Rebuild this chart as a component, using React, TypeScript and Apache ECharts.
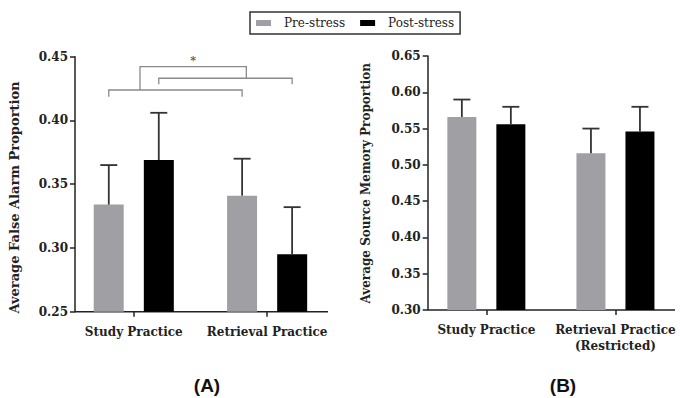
import React, { useEffect, useRef } from "react";
import * as echarts from "echarts";

// ---- data ----
const categoriesA = ["Study Practice", "Retrieval Practice"];
const preA = [0.334, 0.341];
const postA = [0.369, 0.295];
const preErrA = [0.031, 0.029];
const postErrA = [0.037, 0.037];

const categoriesB = ["Study Practice", "Retrieval Practice\n(Restricted)"];
const preB = [0.566, 0.516];
const postB = [0.556, 0.546];
const preErrB = [0.024, 0.034];
const postErrB = [0.024, 0.034];

const yRangeA = [0.25, 0.45];
const yRangeB = [0.3, 0.65];
const yStep = 0.05;

// significance bracket levels (panel A, in axis units)
const bracketLow = [0.4239, 0.4186];
const bracketMid = [0.4331, 0.4284];
const bracketTop = 0.4422;

const GREY = "#a0a0a4";
const BLACK = "#000000";
const AXIS = "#222222";
const SERIF = '"DejaVu Serif"';

const OFF_A = 25;
const OFF_B = 24.5;

function errorSeries(name: string, xi: number, vals: number[], errs: number[], offset: number) {
  return {
    type: "custom",
    name: name + "-err",
    xAxisIndex: xi,
    yAxisIndex: xi,
    z: 3,
    silent: true,
    encode: { x: 0, y: 1 },
    data: vals.map((v, i) => [i, v, errs[i]]),
    renderItem: (params: any, api: any) => {
      const c = api.value(0);
      const v = api.value(1);
      const e = api.value(2);
      const base = api.coord([c, v]);
      const top = api.coord([c, v + e]);
      const x = base[0] + offset;
      const style = { stroke: "#333", lineWidth: 1.8 };
      return {
        type: "group",
        children: [
          { type: "line", shape: { x1: x, y1: base[1], x2: x, y2: top[1] }, style },
          { type: "line", shape: { x1: x - 8.5, y1: top[1], x2: x + 8.5, y2: top[1] }, style },
        ],
      };
    },
  };
}

export default function App() {
  const ref = useRef<HTMLDivElement>(null);
  useEffect(() => {
    if (!ref.current) return;
    const chart = echarts.init(ref.current, null, { renderer: "svg" });
    const yLabel = {
      formatter: (v: number) => v.toFixed(2),
      fontFamily: SERIF,
      fontWeight: "bold",
      fontSize: 12,
      color: AXIS,
      margin: 7,
    };
    const xLabel = {
      interval: 0,
      fontFamily: SERIF,
      fontWeight: "bold",
      fontSize: 12,
      color: AXIS,
      margin: 12,
      lineHeight: 16,
    };
    const tick = { show: true, length: 5, lineStyle: { color: AXIS, width: 1.5 } };
    const xAxisCommon = {
      type: "category",
      axisLine: { show: true, lineStyle: { color: "rgba(0,0,0,0)", width: 0 } },
      axisTick: { ...tick, alignWithLabel: true, interval: 0 },
      axisLabel: xLabel,
    };
    const option: any = {
      animation: false,
      legend: {
        left: 250,
        top: 12,
        data: ["Pre-stress", "Post-stress"],
        icon: "rect",
        itemWidth: 15,
        itemHeight: 6,
        itemGap: 15,
        borderColor: "#333",
        borderWidth: 1.5,
        padding: [5, 6, 5, 6],
        textStyle: { fontFamily: SERIF, fontSize: 12, color: "#222", padding: [0, 0, 0, 8] },
      },
      grid: [
        { left: 67.1, top: 56.7, width: 266.7, height: 255 },
        { left: 421.8, top: 56, width: 266, height: 254 },
      ],
      xAxis: [
        { ...xAxisCommon, gridIndex: 0, data: categoriesA },
        { ...xAxisCommon, gridIndex: 1, data: categoriesB },
      ],
      yAxis: [
        {
          type: "value",
          gridIndex: 0,
          min: yRangeA[0],
          max: yRangeA[1],
          interval: yStep,
          offset: -7.9,
          axisLine: { show: true, lineStyle: { color: AXIS, width: 1.5 } },
          axisTick: tick,
          splitLine: { show: false },
          axisLabel: yLabel,
        },
        {
          type: "value",
          gridIndex: 1,
          min: yRangeB[0],
          max: yRangeB[1],
          interval: yStep,
          offset: -5.9,
          axisLine: { show: true, lineStyle: { color: AXIS, width: 1.5 } },
          axisTick: tick,
          splitLine: { show: false },
          axisLabel: yLabel,
        },
      ],
      series: [
        { type: "bar", name: "Pre-stress", xAxisIndex: 0, yAxisIndex: 0, data: preA, barWidth: 30, barGap: "67%", itemStyle: { color: GREY } },
        { type: "bar", name: "Post-stress", xAxisIndex: 0, yAxisIndex: 0, data: postA, barWidth: 30, barGap: "67%", itemStyle: { color: BLACK } },
        { type: "bar", name: "Pre-stress", xAxisIndex: 1, yAxisIndex: 1, data: preB, barWidth: 29, barGap: "69%", itemStyle: { color: GREY } },
        { type: "bar", name: "Post-stress", xAxisIndex: 1, yAxisIndex: 1, data: postB, barWidth: 29, barGap: "69%", itemStyle: { color: BLACK } },
        errorSeries("Pre-stress", 0, preA, preErrA, -OFF_A),
        errorSeries("Post-stress", 0, postA, postErrA, OFF_A),
        errorSeries("Pre-stress", 1, preB, preErrB, -OFF_B),
        errorSeries("Post-stress", 1, postB, postErrB, OFF_B),
        {
          type: "custom",
          name: "significance",
          xAxisIndex: 0,
          yAxisIndex: 0,
          silent: true,
          clip: false,
          encode: { x: 0, y: 1 },
          data: [[0, bracketTop]],
          renderItem: (params: any, api: any) => {
            const c0 = api.coord([0, bracketTop])[0];
            const c1 = api.coord([1, bracketTop])[0];
            const y = (v: number) => api.coord([0, v])[1];
            const st = { stroke: "#8a8a8a", lineWidth: 1.3, fill: "none" };
            const lx0 = c0 - OFF_A, lx1 = c1 - OFF_A;
            const mx0 = c0 + OFF_A, mx1 = c1 + OFF_A;
            const tx0 = c0 + 6.2, tx1 = c1 - 20.8;
            return {
              type: "group",
              children: [
                { type: "polyline", shape: { points: [[lx0, y(bracketLow[1])], [lx0, y(bracketLow[0])], [lx1, y(bracketLow[0])], [lx1, y(bracketLow[1])]] }, style: st },
                { type: "polyline", shape: { points: [[mx0, y(bracketMid[1])], [mx0, y(bracketMid[0])], [mx1, y(bracketMid[0])], [mx1, y(bracketMid[1])]] }, style: st },
                { type: "polyline", shape: { points: [[tx0, y(bracketLow[0])], [tx0, y(bracketTop)], [tx1, y(bracketTop)], [tx1, y(bracketMid[0])]] }, style: st },
                {
                  type: "text",
                  x: (tx0 + tx1) / 2,
                  y: y(bracketTop) - 1,
                  style: { text: "*", font: "bold 11px " + SERIF, fill: "#555", align: "center", verticalAlign: "bottom" },
                },
              ],
            };
          },
        },
      ],
      graphic: [
        { type: "line", shape: { x1: 75, y1: 311.7, x2: 328, y2: 311.7 }, style: { stroke: AXIS, lineWidth: 1.5 } },
        { type: "line", shape: { x1: 427.7, y1: 310, x2: 675, y2: 310 }, style: { stroke: AXIS, lineWidth: 1.5 } },
        {
          type: "text",
          x: 14.7,
          y: 197.5,
          rotation: Math.PI / 2,
          style: { text: "Average False Alarm Proportion", font: "bold 13px " + SERIF, fill: AXIS, align: "center", verticalAlign: "middle" },
        },
        {
          type: "text",
          x: 366,
          y: 183.3,
          rotation: Math.PI / 2,
          style: { text: "Average Source Memory Proportion", font: "bold 12px " + SERIF, fill: AXIS, align: "center", verticalAlign: "middle" },
        },
        {
          type: "text",
          x: 207,
          y: 385,
          style: { text: "(A)", font: 'bold 19px "Liberation Sans"', fill: "#111", align: "center", verticalAlign: "middle" },
        },
        {
          type: "text",
          x: 563,
          y: 385,
          style: { text: "(B)", font: 'bold 19px "Liberation Sans"', fill: "#111", align: "center", verticalAlign: "middle" },
        },
      ],
    };
    chart.setOption(option);
    return () => chart.dispose();
  }, []);
  return (
    <div
      ref={ref}
      style={{ position: "absolute", left: 0, top: 0, width: 680, height: 398, background: "#fff" }}
    />
  );
}
